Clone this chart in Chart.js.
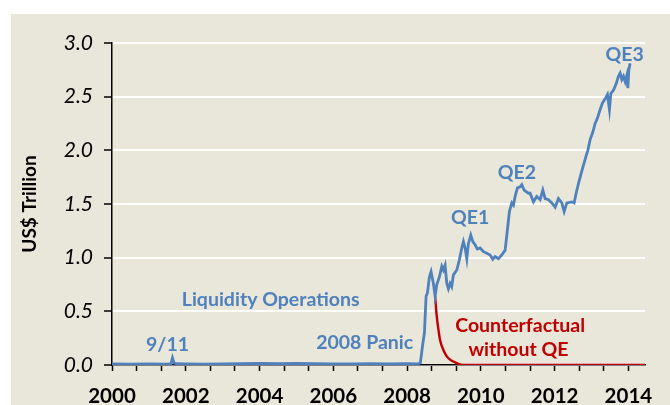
<!DOCTYPE html>
<html>
<head>
<meta charset="utf-8">
<script src="https://cdn.jsdelivr.net/npm/chart.js@4/dist/chart.umd.min.js"></script>
<style>
  html, body { margin: 0; padding: 0; background: #ffffff; }
  #frame { position: absolute; left: 11px; top: 14px; width: 659px; height: 391px; background: #e9e6da; }
  canvas { display: block; }
</style>
</head>
<body>
<div id="frame"><canvas id="c" width="659" height="391"></canvas></div>
<script>
// ---- Data ----
const blueYears = [
  2000.0, 2000.5, 2001.0, 2001.5, 2001.60, 2001.64, 2001.68, 2001.75, 2002.0, 2002.5,
  2003.0, 2003.5, 2004.0, 2004.5, 2005.0, 2005.5, 2006.0, 2006.5, 2007.0, 2007.5,
  2008.0, 2008.30, 2008.36, 2008.415, 2008.47, 2008.515, 2008.55, 2008.605, 2008.65, 2008.713,
  2008.76, 2008.805, 2008.876, 2008.941, 2008.984, 2009.03, 2009.077, 2009.12, 2009.166, 2009.21,
  2009.256, 2009.348, 2009.418, 2009.483, 2009.527, 2009.573, 2009.619, 2009.662, 2009.727, 2009.782,
  2009.844, 2009.906, 2009.98, 2010.069, 2010.161, 2010.251, 2010.324, 2010.386, 2010.476, 2010.568,
  2010.658, 2010.72, 2010.774, 2010.839, 2010.883, 2010.929, 2010.991, 2011.064, 2011.11, 2011.173,
  2011.246, 2011.29, 2011.336, 2011.425, 2011.517, 2011.607, 2011.68, 2011.742, 2011.832, 2011.924,
  2012.014, 2012.103, 2012.195, 2012.258, 2012.331, 2012.467, 2012.529, 2012.583, 2012.646, 2012.719,
  2012.781, 2012.846, 2012.9, 2012.963, 2013.036, 2013.098, 2013.161, 2013.234, 2013.296, 2013.369,
  2013.432, 2013.486, 2013.524, 2013.595, 2013.668, 2013.73, 2013.776, 2013.822, 2013.866, 2013.912,
  2013.958, 2013.985, 2014.012, 2014.047
];
const blueValues = [
  0.010, 0.008, 0.010, 0.009, 0.012, 0.065, 0.020, 0.012, 0.010, 0.008,
  0.010, 0.012, 0.015, 0.013, 0.014, 0.012, 0.010, 0.011, 0.012, 0.010,
  0.012, 0.010, 0.020, 0.17, 0.30, 0.64, 0.67, 0.82, 0.87, 0.76,
  0.64, 0.75, 0.82, 0.92, 0.885, 0.93, 0.76, 0.71, 0.76, 0.73,
  0.84, 0.885, 0.98, 1.09, 1.15, 1.09, 0.99, 1.13, 1.21, 1.15,
  1.12, 1.08, 1.09, 1.056, 1.04, 1.025, 0.985, 1.01, 0.99, 1.025,
  1.07, 1.26, 1.43, 1.51, 1.49, 1.57, 1.65, 1.66, 1.68, 1.63,
  1.61, 1.60, 1.60, 1.52, 1.57, 1.54, 1.63, 1.55, 1.54, 1.51,
  1.47, 1.55, 1.51, 1.43, 1.51, 1.52, 1.51, 1.60, 1.69, 1.785,
  1.86, 1.94, 2.00, 2.10, 2.17, 2.25, 2.30, 2.38, 2.44, 2.48,
  2.52, 2.38, 2.53, 2.56, 2.62, 2.69, 2.72, 2.66, 2.69, 2.64,
  2.70, 2.58, 2.75, 2.81
];
const redYears  = [2008.76, 2008.805, 2008.85, 2008.895, 2008.984, 2009.077, 2009.166, 2009.30, 2009.44, 2009.6, 2014.45];
const redValues = [0.64, 0.45, 0.33, 0.23, 0.14, 0.08, 0.05, 0.025, 0.005, 0.0, 0.0];

const yTickValues = [0, 0.5, 1.0, 1.5, 2.0, 2.5, 3.0];
const xLabelYears = [2000, 2002, 2004, 2006, 2008, 2010, 2012, 2014];

const annotationTexts  = ["9/11", "Liquidity Operations", "2008 Panic", "QE1", "QE2", "QE3", "Counterfactual", "without QE"];
const annotationYears  = [2001.505, 2004.30, 2006.85, 2009.71, 2010.975, 2013.90, 2011.065, 2011.02];
const annotationValues = [0.186, 0.606, 0.205, 1.37, 1.79, 2.89, 0.363, 0.14];
const annotationSeries = [0, 0, 0, 0, 0, 0, 1, 1];

// ---- Styles ----
const BLUE = '#4f81bd';
const RED = '#c00000';
const FONT = 'Lato, "Open Sans", sans-serif';

const annotationPlugin = {
  id: 'annot',
  afterDatasetsDraw(chart) {
    const ctx = chart.ctx;
    const xs = chart.scales.x, ys = chart.scales.y;
    ctx.save();
    ctx.font = 'bold 19.5px ' + FONT;
    ctx.textAlign = 'center';
    ctx.textBaseline = 'middle';
    annotationTexts.forEach((t, i) => {
      ctx.fillStyle = annotationSeries[i] === 1 ? RED : BLUE;
      ctx.fillText(t, xs.getPixelForValue(annotationYears[i]), ys.getPixelForValue(annotationValues[i]));
    });
    ctx.restore();
  }
};

const xTicks = [];
for (let k = 0; k <= 21; k++) xTicks.push(2000 + k * 2 / 3);

new Chart(document.getElementById('c'), {
  type: 'line',
  data: {
    datasets: [
      {
        data: blueYears.map((x, i) => ({ x: x, y: blueValues[i] })),
        borderColor: BLUE, borderWidth: 2.8, pointRadius: 0, tension: 0
      },
      {
        data: redYears.map((x, i) => ({ x: x, y: redValues[i] })),
        borderColor: RED, borderWidth: 2.4, pointRadius: 0, cubicInterpolationMode: 'monotone'
      }
    ]
  },
  options: {
    responsive: false,
    animation: false,
    devicePixelRatio: 1,
    layout: { padding: { left: 0, top: 29, right: 25, bottom: 0 } },
    plugins: { legend: { display: false }, tooltip: { enabled: false } },
    scales: {
      x: {
        type: 'linear', min: 2000, max: 2014.45,
        afterBuildTicks: (axis) => { axis.ticks = xTicks.map(v => ({ value: v })); },
        afterFit: (axis) => { axis.height = 40; },
        grid: { drawOnChartArea: false, drawTicks: true, tickLength: 6, tickColor: '#000', tickWidth: 1.5 },
        border: { color: '#000', width: 1.5 },
        ticks: {
          autoSkip: false, maxRotation: 0, padding: 13, color: '#000',
          font: { family: FONT, size: 20.5, weight: 'bold' },
          callback: (v) => {
            const yr = xLabelYears.find(y => Math.abs(y - v) < 0.01);
            return yr !== undefined ? String(yr) : '';
          }
        }
      },
      y: {
        min: 0, max: 3,
        afterBuildTicks: (axis) => { axis.ticks = yTickValues.map(v => ({ value: v })); },
        afterFit: (axis) => { axis.width = 101; },
        grid: { color: '#ffffff', lineWidth: 2, tickLength: 8, tickColor: '#000', tickWidth: 1.5 },
        border: { color: '#000', width: 1.5 },
        title: { display: true, text: 'US$ Trillion', color: '#000', font: { family: FONT, size: 19, weight: 'bold' }, padding: { top: 7, bottom: 0 } },
        ticks: {
          padding: 11, color: '#000',
          font: { family: FONT, size: 21, style: 'italic' },
          callback: (v) => Number(v).toFixed(1)
        }
      }
    }
  },
  plugins: [annotationPlugin]
});
</script>
</body>
</html>
